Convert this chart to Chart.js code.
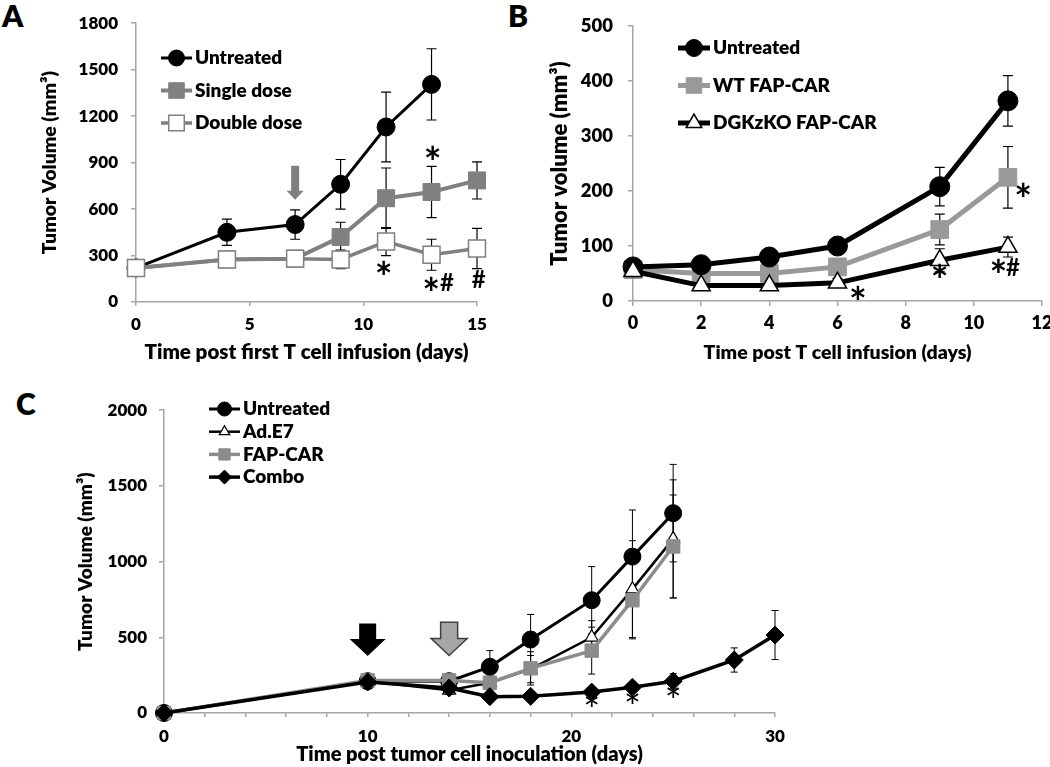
<!DOCTYPE html>
<html>
<head>
<meta charset="utf-8">
<script src="https://cdn.jsdelivr.net/npm/chart.js@4.4.1/dist/chart.umd.min.js"></script>
<style>
  html, body { margin: 0; padding: 0; background: #fff; width: 1050px; height: 767px; overflow: hidden; }
  canvas { position: absolute; }
  .tag { position: absolute; font: 800 30px Lato, sans-serif; line-height: 30px; color: #000; }
</style>
</head>
<body>
<div class="tag" style="left:2px;top:0">A</div>
<div class="tag" style="left:508px;top:0">B</div>
<div class="tag" style="left:16px;top:388px">C</div>
<canvas id="chartA" width="510" height="385" style="left:0;top:0"></canvas>
<canvas id="chartB" width="540" height="385" style="left:520px;top:0"></canvas>
<canvas id="chartC" width="830" height="379" style="left:0;top:388px"></canvas>
<script>
// ---- Panel A: single vs double dose
const daysA = [0, 4, 7, 9, 11, 13, 15];
const xTicksA = [0, 5, 10, 15];
const yTicksA = [0, 300, 600, 900, 1200, 1500, 1800];
const untreatedA = [220, 450, 500, 760, 1130, 1405, null];
const untreatedErrA = [30, 85, 95, 160, 225, 230, null];
const singleA = [220, 275, 280, 420, 670, 710, 785];
const singleErrA = [30, 20, 25, 95, 195, 165, 120];
const doubleA = [220, 275, 280, 275, 390, 305, 345];
const doubleErrA = [30, 20, 25, 60, 90, 100, 130];
const arrowsA = [[7, 660, 880]];          // day, tip value, tail value
const marksA = [[13.05, 943, '*'], [10.9, 200, '*'], [12.98, 100, '*'], [13.68, 120, '#'], [15.08, 138, '#']];

// ---- Panel B: WT vs DGKzKO FAP-CAR
const daysB = [0, 2, 4, 6, 9, 11];
const xTicksB = [0, 2, 4, 6, 8, 10, 12];
const yTicksB = [0, 100, 200, 300, 400, 500];
const untreatedB = [62, 66, 80, 100, 208, 364];
const untreatedErrB = [10, 5, 14, 6, 35, 46];
const wtB = [57, 50, 50, 62, 130, 225];
const wtErrB = [8, 5, 6, 14, 28, 56];
const dgkB = [54, 28, 28, 33, 74, 98];
const dgkErrB = [8, 4, 4, 8, 21, 18];
const marksB = [[6.6, 10, '*'], [9.0, 49, '*'], [11.45, 198, '*'], [10.72, 59, '*'], [11.15, 59, '#']];

// ---- Panel C: Ad.E7 + FAP-CAR combo
const daysC = [0, 10, 14, 16, 18, 21, 23, 25, 28, 30];
const xTicksC = [0, 10, 20, 30];
const yTicksC = [0, 500, 1000, 1500, 2000];
const untreatedC = [0, 210, 210, 305, 485, 745, 1033, 1320, null, null];
const untreatedErrC = [0, 0, 30, 107, 166, 222, 308, 322, null, null];
const adE7C = [0, 210, 150, 200, 290, 500, 818, 1150, null, null];
const adE7ErrC = [0, 0, 20, 40, 90, 110, 320, 390, null, null];
const fapC = [0, 215, 215, 200, 295, 412, 745, 1100, null, null];
const fapErrC = [0, 0, 40, 50, 110, 155, 255, 340, null, null];
const comboC = [0, 205, 165, 108, 110, 138, 170, 210, 350, 515];
const comboErrC = [0, 0, 40, 15, 15, 20, 20, 50, 80, 162];
const arrowsC = [[10, 377, 591], [14, 380, 600]];
const marksC = [[21, 60, '*'], [23, 82, '*'], [25, 120, '*']];

const axisGray = '#a6a6a6';
const heavy = 800;
const pts = (days, vals) => days.map((d, i) => ({ x: d, y: vals[i] }));

Chart.defaults.font.family = 'Lato, sans-serif';
Chart.defaults.font.weight = heavy;
Chart.defaults.color = '#000';

// vertical error bars, drawn under the markers
const errorBars = {
  id: 'errorBars',
  beforeDatasetsDraw(chart, args, o) {
    const { ctx } = chart;
    const yScale = chart.scales.y;
    ctx.save();
    ctx.strokeStyle = '#000';
    ctx.lineWidth = o.width;
    chart.data.datasets.forEach((ds, i) => {
      const meta = chart.getDatasetMeta(i);
      meta.data.forEach((pt, j) => {
        const v = ds.data[j].y, e = ds.errors[j];
        if (v == null || !e) return;
        const top = yScale.getPixelForValue(v + e);
        const bot = yScale.getPixelForValue(v - e);
        ctx.beginPath();
        ctx.moveTo(pt.x, top); ctx.lineTo(pt.x, bot);
        ctx.moveTo(pt.x - o.cap, top); ctx.lineTo(pt.x + o.cap, top);
        ctx.moveTo(pt.x - o.cap, bot); ctx.lineTo(pt.x + o.cap, bot);
        ctx.stroke();
      });
    });
    ctx.restore();
  }
};

// arrows (dosing) and significance marks
const notes = {
  id: 'notes',
  afterDatasetsDraw(chart, args, o) {
    const { ctx, scales: { x, y } } = chart;
    ctx.save();
    (o.arrows || []).forEach(([at, tipV, tailV], k) => {
      const st = o.arrowStyle[k];
      const cx = x.getPixelForValue(at);
      const tip = y.getPixelForValue(tipV);
      const tail = y.getPixelForValue(tailV);
      const neck = tip - st.head;
      ctx.beginPath();
      ctx.moveTo(cx - st.shaft / 2, tail);
      ctx.lineTo(cx + st.shaft / 2, tail);
      ctx.lineTo(cx + st.shaft / 2, neck);
      ctx.lineTo(cx + st.wing / 2, neck);
      ctx.lineTo(cx, tip);
      ctx.lineTo(cx - st.wing / 2, neck);
      ctx.lineTo(cx - st.shaft / 2, neck);
      ctx.closePath();
      ctx.fillStyle = st.fill;
      ctx.fill();
      if (st.line) { ctx.strokeStyle = st.line; ctx.lineWidth = 1.5; ctx.stroke(); }
    });
    ctx.fillStyle = '#000';
    ctx.textAlign = 'center';
    ctx.textBaseline = 'middle';
    (o.marks || []).forEach(([mx, my, glyph]) => {
      const star = glyph === '*';
      const size = star ? o.starSize : o.hashSize;
      ctx.font = `${star ? o.starWeight : 'bold'} ${size}px Lato, sans-serif`;
      ctx.fillText(glyph, x.getPixelForValue(mx), y.getPixelForValue(my) + (star ? size * 0.21 : 0));
    });
    ctx.restore();
  }
};

// line + marker legend inside the plot
const sideLegend = {
  id: 'sideLegend',
  afterDraw(chart, args, o) {
    const { ctx } = chart;
    ctx.save();
    ctx.textBaseline = 'middle';
    chart.data.datasets.forEach((ds, row) => {
      const y = o.top + row * o.step;
      ctx.strokeStyle = ds.borderColor;
      ctx.lineWidth = ds.borderWidth;
      ctx.beginPath();
      ctx.moveTo(o.left, y);
      ctx.lineTo(o.left + o.sample, y);
      ctx.stroke();
      ctx.fillStyle = ds.pointBackgroundColor;
      ctx.strokeStyle = ds.pointBorderColor;
      ctx.lineWidth = ds.pointBorderWidth;
      Chart.helpers.drawPoint(ctx, { pointStyle: ds.pointStyle, radius: ds.legendRadius, borderWidth: ds.pointBorderWidth, rotation: 0 }, o.left + o.sample / 2, y);
      ctx.fillStyle = '#000';
      ctx.font = `${heavy} ${o.size}px Lato, sans-serif`;
      ctx.fillText(ds.label, o.left + o.sample + o.gap, y);
    });
    ctx.restore();
  }
};

// one axis: labels only where the tick list has them, marks every `step`
function axis(o) {
  return {
    type: 'linear',
    min: o.ticks[0],
    max: o.ticks[o.ticks.length - 1],
    ticks: {
      stepSize: o.step || o.ticks[1] - o.ticks[0],
      autoSkip: false,
      padding: o.pad,
      font: { size: o.size, weight: heavy },
      callback: v => (o.ticks.includes(v) ? String(v) : '')
    },
    grid: { drawOnChartArea: false, tickLength: o.tickLen, color: axisGray, lineWidth: 1.5 },
    border: { color: axisGray, width: 1.5 },
    title: { display: true, text: o.title, font: { size: o.titleSize, weight: heavy }, padding: o.titlePad },
    afterFit: s => { if (s.isHorizontal()) s.height = o.fit; else s.width = o.fit; }
  };
}

const baseOptions = {
  responsive: false,
  animation: false,
  events: []
};

// ---------- A ----------
new Chart(document.getElementById('chartA'), {
  type: 'line',
  data: {
    datasets: [
      { label: 'Untreated', data: pts(daysA, untreatedA), errors: untreatedErrA, order: 1,
        borderColor: '#000', borderWidth: 3, pointStyle: 'circle', pointRadius: 9, legendRadius: 8,
        pointBackgroundColor: '#000', pointBorderColor: '#000', pointBorderWidth: 1 },
      { label: 'Single dose', data: pts(daysA, singleA), errors: singleErrA, order: 2,
        borderColor: '#808080', borderWidth: 4, pointStyle: 'rect', pointRadius: 12, legendRadius: 11,
        pointBackgroundColor: '#808080', pointBorderColor: '#808080', pointBorderWidth: 1 },
      { label: 'Double dose', data: pts(daysA, doubleA), errors: doubleErrA, order: 0,
        borderColor: '#808080', borderWidth: 3.5, pointStyle: 'rect', pointRadius: 12, legendRadius: 11,
        pointBackgroundColor: '#fff', pointBorderColor: '#808080', pointBorderWidth: 1.5 }
    ]
  },
  options: Object.assign({}, baseOptions, {
    clip: false,
    layout: { padding: { left: 0, top: 16, right: 33, bottom: 0 } },
    scales: {
      x: axis({ ticks: xTicksA, size: 17, tickLen: 4, pad: 8.5, fit: 83,
                title: 'Time post first T cell infusion (days)', titleSize: 20.5, titlePad: { top: 0, bottom: 20 } }),
      y: axis({ ticks: yTicksA, size: 17, tickLen: 5, pad: 13, fit: 136,
                title: 'Tumor Volume (mm³)', titleSize: 19.5, titlePad: { top: 38, bottom: 0 } })
    },
    plugins: {
      legend: { display: false },
      tooltip: { enabled: false },
      errorBars: { width: 1.2, cap: 5 },
      notes: { arrows: arrowsA, arrowStyle: [{ shaft: 8, wing: 17, head: 9, fill: '#808080' }],
               marks: marksA, starSize: 42, hashSize: 24, starWeight: 'bold' },
      sideLegend: { left: 161, top: 58, step: 32.5, sample: 31, gap: 3, size: 19 }
    }
  }),
  plugins: [errorBars, notes, sideLegend]
});

// ---------- B ----------
new Chart(document.getElementById('chartB'), {
  type: 'line',
  data: {
    datasets: [
      { label: 'Untreated', data: pts(daysB, untreatedB), errors: untreatedErrB, order: 1,
        borderColor: '#000', borderWidth: 5, pointStyle: 'circle', pointRadius: 10, legendRadius: 8.5,
        pointBackgroundColor: '#000', pointBorderColor: '#000', pointBorderWidth: 1 },
      { label: 'WT FAP-CAR', data: pts(daysB, wtB), errors: wtErrB, order: 2,
        borderColor: '#999', borderWidth: 5, pointStyle: 'rect', pointRadius: 12.5, legendRadius: 11,
        pointBackgroundColor: '#999', pointBorderColor: '#999', pointBorderWidth: 1 },
      { label: 'DGKzKO FAP-CAR', data: pts(daysB, dgkB), errors: dgkErrB, order: 0,
        borderColor: '#000', borderWidth: 5, pointStyle: 'triangle', pointRadius: 10.5, legendRadius: 9,
        pointBackgroundColor: '#fff', pointBorderColor: '#000', pointBorderWidth: 1.5 }
    ]
  },
  options: Object.assign({}, baseOptions, {
    clip: false,
    layout: { padding: { left: 0, top: 16, right: 18, bottom: 0 } },
    scales: {
      x: axis({ ticks: xTicksB, size: 18, tickLen: 5, pad: 6, fit: 84,
                title: 'Time post T cell infusion (days)', titleSize: 19.5, titlePad: { top: 0, bottom: 21 } }),
      y: axis({ ticks: yTicksB, size: 18.5, tickLen: 5, pad: 15, fit: 113,
                title: 'Tumor volume (mm³)', titleSize: 22, titlePad: { top: 27, bottom: 0 } })
    },
    plugins: {
      legend: { display: false },
      tooltip: { enabled: false },
      errorBars: { width: 1.2, cap: 5 },
      notes: { marks: marksB, starSize: 42, hashSize: 24, starWeight: 'bold' },
      sideLegend: { left: 158, top: 48, step: 37.5, sample: 32, gap: 3, size: 19 }
    }
  }),
  plugins: [errorBars, notes, sideLegend]
});

// ---------- C ----------
new Chart(document.getElementById('chartC'), {
  type: 'line',
  data: {
    datasets: [
      { label: 'Untreated', data: pts(daysC, untreatedC), errors: untreatedErrC, order: 3,
        borderColor: '#000', borderWidth: 3, pointStyle: 'circle', pointRadius: 8.5, legendRadius: 7,
        pointBackgroundColor: '#000', pointBorderColor: '#000', pointBorderWidth: 1 },
      { label: 'Ad.E7', data: pts(daysC, adE7C), errors: adE7ErrC, order: 2,
        borderColor: '#000', borderWidth: 2.5, pointStyle: 'triangle', pointRadius: 7.5, legendRadius: 6,
        pointBackgroundColor: '#fff', pointBorderColor: '#000', pointBorderWidth: 1.2 },
      { label: 'FAP-CAR', data: pts(daysC, fapC), errors: fapErrC, order: 1,
        borderColor: '#8c8c8c', borderWidth: 3.5, pointStyle: 'rect', pointRadius: 9.5, legendRadius: 8,
        pointBackgroundColor: '#8c8c8c', pointBorderColor: '#8c8c8c', pointBorderWidth: 1 },
      { label: 'Combo', data: pts(daysC, comboC), errors: comboErrC, order: 0,
        borderColor: '#000', borderWidth: 3.5, pointStyle: 'rectRot', pointRadius: 9, legendRadius: 7,
        pointBackgroundColor: '#000', pointBorderColor: '#000', pointBorderWidth: 1 }
    ]
  },
  options: Object.assign({}, baseOptions, {
    clip: false,
    layout: { padding: { left: 0, top: 14, right: 55, bottom: 0 } },
    scales: {
      x: axis({ ticks: xTicksC, step: 2, size: 17, tickLen: 4, pad: 9.5, fit: 54,
                title: 'Time post tumor cell inoculation (days)', titleSize: 20, titlePad: { top: 0, bottom: 0 } }),
      y: axis({ ticks: yTicksC, size: 17, tickLen: 5, pad: 12, fit: 164,
                title: 'Tumor Volume (mm³)', titleSize: 19, titlePad: { top: 74, bottom: 0 } })
    },
    plugins: {
      legend: { display: false },
      tooltip: { enabled: false },
      errorBars: { width: 1, cap: 3.5 },
      notes: { arrows: arrowsC,
               arrowStyle: [{ shaft: 17, wing: 36, head: 17, fill: '#000' },
                            { shaft: 17, wing: 36, head: 17, fill: '#a6a6a6', line: '#404040' }],
               marks: marksC, starSize: 40, hashSize: 24, starWeight: 'normal' },
      sideLegend: { left: 209, top: 21, step: 22.7, sample: 31, gap: 3, size: 19 }
    }
  }),
  plugins: [errorBars, notes, sideLegend]
});
</script>
</body>
</html>
